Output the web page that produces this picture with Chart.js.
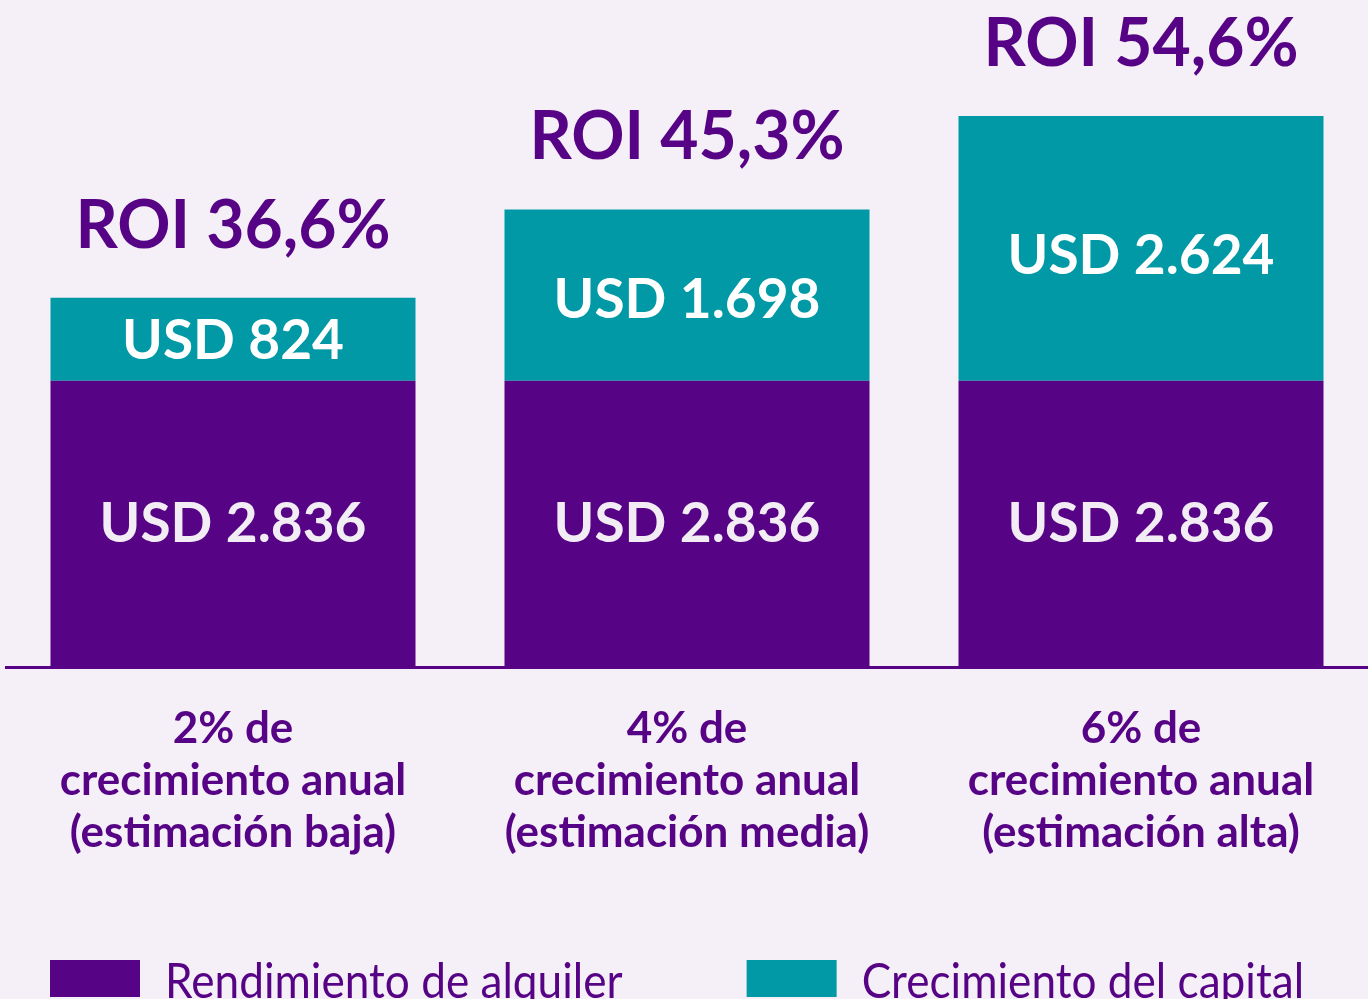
<!DOCTYPE html>
<html>
<head>
<meta charset="utf-8">
<script src="https://cdn.jsdelivr.net/npm/chart.js@4"></script>
<style>
  html, body { margin: 0; padding: 0; background: #f5f0f7; overflow: hidden; }
  #wrap { width: 1368px; height: 999px; }
</style>
</head>
<body>
<div id="wrap"><canvas id="myChart" width="1368" height="999"></canvas></div>
<script>
// data
const categories = [
    ['2% de', 'crecimiento anual', '(estimación baja)'],
    ['4% de', 'crecimiento anual', '(estimación media)'],
    ['6% de', 'crecimiento anual', '(estimación alta)']
];
const rentalYield = [2836, 2836, 2836];
const capitalGrowth = [824, 1698, 2624];
const roiLabels = ['ROI 36,6%', 'ROI 45,3%', 'ROI 54,6%'];
const seriesNames = ['Rendimiento de alquiler', 'Crecimiento del capital'];

const purple = '#560485';
const teal = '#0099a5';
const valueColors = ['#f2edf5', '#ffffff'];

function fmt(n) {
    return String(n).replace(/\B(?=(\d{3})+(?!\d))/g, '.');
}

// labels inside the bars and ROI above them
const barLabels = {
    id: 'barLabels',
    afterDatasetsDraw(chart) {
        const ctx = chart.ctx;
        ctx.save();
        ctx.textAlign = 'center';
        ctx.textBaseline = 'middle';
        ctx.font = 'bold 55px Lato';
        chart.data.datasets.forEach((ds, i) => {
            chart.getDatasetMeta(i).data.forEach((bar, j) => {
                ctx.fillStyle = valueColors[i];
                // taller teal blocks carry their label a bit lower
                const shift = i == 1 ? (bar.base - bar.y) * 0.03 : 0;
                ctx.fillText('USD ' + fmt(ds.data[j]), bar.x, (bar.y + bar.base) / 2 + shift);
            });
        });
        ctx.font = 'bold 66px Lato';
        ctx.textBaseline = 'alphabetic';
        ctx.fillStyle = purple;
        chart.getDatasetMeta(1).data.forEach((bar, j) => {
            ctx.fillText(roiLabels[j], bar.x, bar.y - 50);
        });
        ctx.restore();
    }
};

// legend drawn at the bottom, running off the edge like the original
const bottomLegend = {
    id: 'bottomLegend',
    afterDraw(chart) {
        const ctx = chart.ctx;
        const squeeze = 0.92;
        ctx.save();
        ctx.font = '48px Lato';
        ctx.textBaseline = 'alphabetic';
        let x = 50;
        chart.data.datasets.forEach((ds) => {
            ctx.fillStyle = ds.backgroundColor;
            ctx.fillRect(x, 960, 90, 37);
            const tx = x + 115;
            const w = ctx.measureText(ds.label).width * squeeze;
            ctx.save();
            ctx.translate(tx, 998);
            ctx.scale(squeeze, 1);
            ctx.fillStyle = purple;
            ctx.fillText(ds.label, 0, 0);
            ctx.restore();
            x = tx + w + 124;
        });
        ctx.restore();
    }
};

const ctx = document.getElementById('myChart');
const myChart = new Chart(ctx, {
    type: 'bar',
    data: {
        labels: categories,
        datasets: [
            { label: seriesNames[0], data: rentalYield, backgroundColor: purple },
            { label: seriesNames[1], data: capitalGrowth, backgroundColor: teal }
        ]
    },
    options: {
        responsive: false,
        animation: false,
        devicePixelRatio: 1,
        layout: { padding: { left: 6, right: 0, top: 0, bottom: 0 } },
        datasets: { bar: { barPercentage: 0.804, categoryPercentage: 1.0 } },
        plugins: {
            legend: { display: false },
            tooltip: { enabled: false }
        },
        scales: {
            x: {
                stacked: true,
                grid: { display: false, drawTicks: false },
                border: { display: true, color: purple, width: 3 },
                ticks: {
                    color: purple,
                    padding: 36,
                    maxRotation: 0,
                    autoSkip: false,
                    font: { family: 'Lato', weight: 'bold', size: 44, lineHeight: '52px' }
                },
                afterFit(scale) { scale.height = 332; }
            },
            y: {
                stacked: true,
                display: false,
                min: 0,
                max: 6610
            }
        }
    },
    plugins: [barLabels, bottomLegend]
});
</script>
</body>
</html>
